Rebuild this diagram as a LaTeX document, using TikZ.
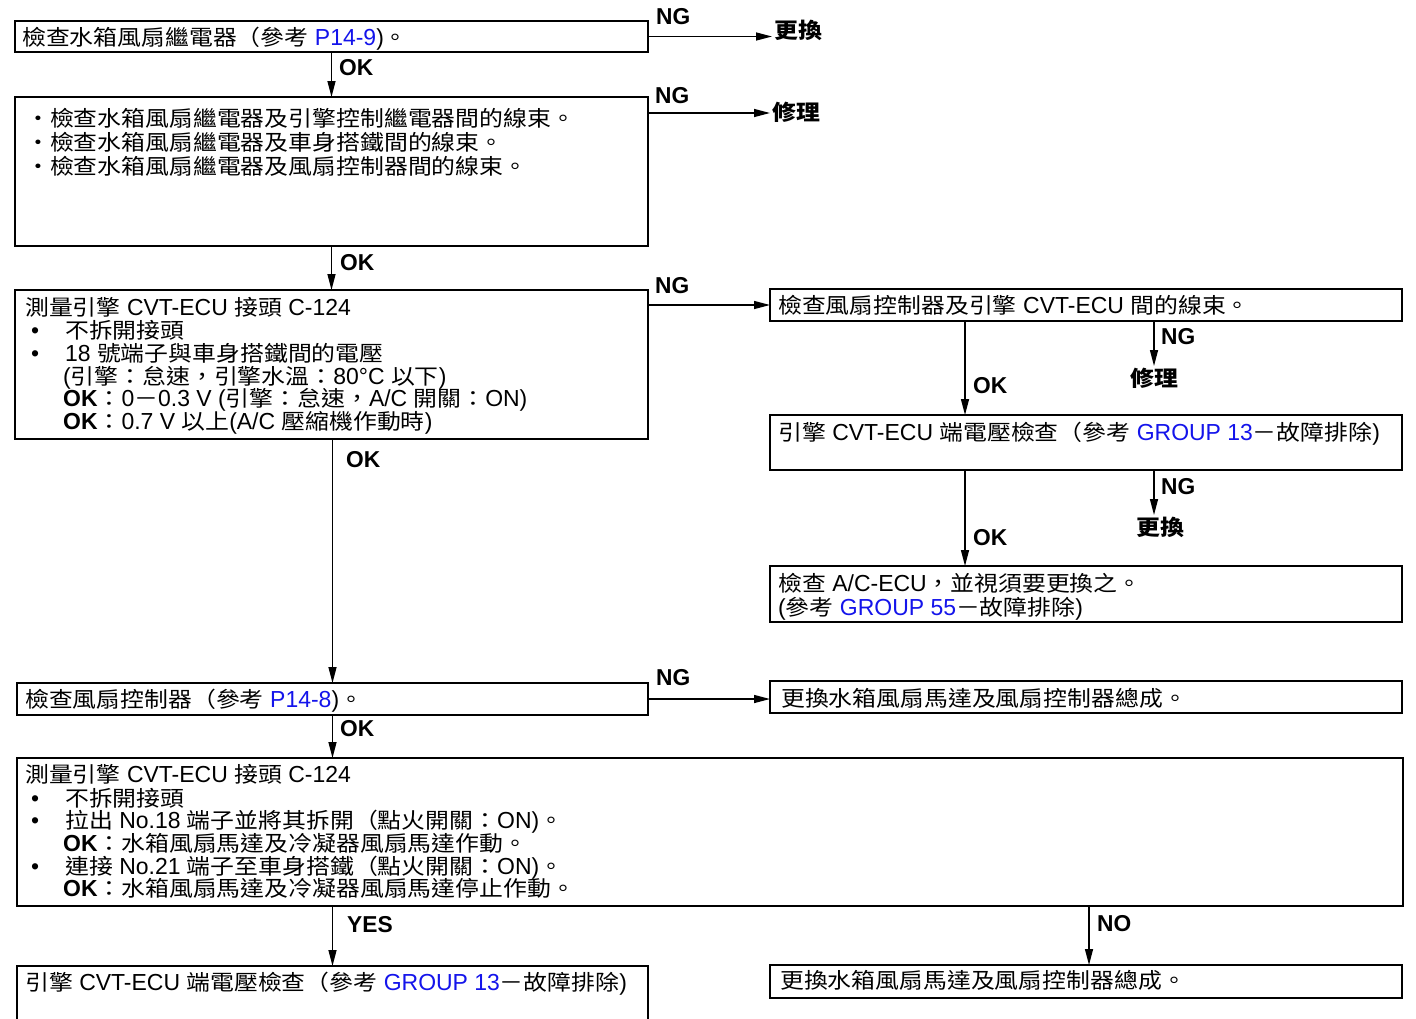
\documentclass[tikz,border=0pt]{standalone}
\usepackage{fontspec}
\usetikzlibrary{arrows.meta,calc}
\setmainfont{Liberation Sans}[FakeStretch=0.99]
\newfontfamily\zhfont{Noto Sans CJK TC}[FakeStretch=1.11]
\newcommand\zh[1]{{\zhfont\fontsize{21.5}{26}\selectfont #1}}
\newcommand\blu[1]{\textcolor{refblue}{#1}}
\newcommand\bul{\makebox[34pt][l]{•}}
\definecolor{refblue}{RGB}{20,20,235}
\begin{document}
\begin{tikzpicture}[x=1pt,y=-1pt,
  box/.style={draw,line width=1.6pt,inner sep=0pt,outer sep=0pt},
  txt/.style={anchor=base west,inner sep=0pt,font=\fontsize{23.2}{28}\selectfont},
  lbl/.style={anchor=west,inner sep=0pt,font=\fontsize{23}{28}\selectfont\bfseries},
  outt/.style={inner sep=2pt,font=\fontsize{23}{28}\selectfont},
  arr/.style={line width=1.4pt,-{Triangle[length=16pt,width=8pt]}}]
\useasboundingbox (0,0) rectangle (1416,1018);
\fill[white] (0,0) rectangle (1416,1018);
% boxes
\node[box,minimum width=633pt,minimum height=31pt] (b1) at (331.5,36.5) {};
\node[box,minimum width=633pt,minimum height=149pt] (b2) at (331.5,171.5) {};
\node[box,minimum width=633pt,minimum height=149pt] (b3) at (331.5,364.5) {};
\node[box,minimum width=632pt,minimum height=32pt] (b4) at (1086,305) {};
\node[box,minimum width=632pt,minimum height=55pt] (b5) at (1086,442.5) {};
\node[box,minimum width=632pt,minimum height=56pt] (b6) at (1086,594) {};
\node[box,minimum width=631pt,minimum height=32pt] (b7) at (332.5,699) {};
\node[box,minimum width=632pt,minimum height=32pt] (b8) at (1086,697) {};
\node[box,minimum width=1386pt,minimum height=148pt] (b9) at (710,832) {};
\node[box,minimum width=631pt,minimum height=70pt] (b10) at (332.5,1001) {};
\node[box,minimum width=632pt,minimum height=33pt] (b11) at (1086,981.5) {};
% texts
\node[txt] (t1) at (22,45) {\zh{檢查水箱風扇繼電器（參考} \blu{P14-9})\zh{。}};
\node[txt] (t2a) at (26,126) {\zh{・檢查水箱風扇繼電器及引擎控制繼電器間的線束。}};
\node[txt] (t2b) at (26,150) {\zh{・檢查水箱風扇繼電器及車身搭鐵間的線束。}};
\node[txt] (t2c) at (26,174) {\zh{・檢查水箱風扇繼電器及風扇控制器間的線束。}};
\node[txt] (t3a) at (25,315) {\zh{測量引擎} CVT-ECU \zh{接頭} C-124};
\node[txt] (t3b) at (31,338) {\bul\zh{不拆開接頭}};
\node[txt] (t3c) at (31,361) {\bul 18 \zh{號端子與車身搭鐵間的電壓}};
\node[txt] (t3d) at (63,384) {(\zh{引擎：怠速，引擎水溫：}80°C \zh{以下})};
\node[txt] (t3e) at (63,406) {\textbf{OK}\zh{：}0\zh{－}0.3 V (\zh{引擎：怠速，}A/C \zh{開關：}ON)};
\node[txt] (t3f) at (63,429) {\textbf{OK}\zh{：}0.7 V \zh{以上}(A/C \zh{壓縮機作動時})};
\node[txt] (t4) at (778,313) {\zh{檢查風扇控制器及引擎} CVT-ECU \zh{間的線束。}};
\node[txt] (t5) at (778,440) {\zh{引擎} CVT-ECU \zh{端電壓檢查（參考} \blu{GROUP 13}\zh{－故障排除})};
\node[txt] (t6a) at (778,591) {\zh{檢查} A/C-ECU\zh{，並視須要更換之。}};
\node[txt] (t6b) at (778,615) {(\zh{參考} \blu{GROUP 55}\zh{－故障排除})};
\node[txt] (t7) at (25,707) {\zh{檢查風扇控制器（參考} \blu{P14-8})\zh{。}};
\node[txt] (t8) at (781,706) {\zh{更換水箱風扇馬達及風扇控制器總成。}};
\node[txt] (t9a) at (25,782) {\zh{測量引擎} CVT-ECU \zh{接頭} C-124};
\node[txt] (t9b) at (31,806) {\bul\zh{不拆開接頭}};
\node[txt] (t9c) at (31,828) {\bul\zh{拉出} No.18 \zh{端子並將其拆開（點火開關：}ON)\zh{。}};
\node[txt] (t9d) at (63,851) {\textbf{OK}\zh{：水箱風扇馬達及冷凝器風扇馬達作動。}};
\node[txt] (t9e) at (31,874) {\bul\zh{連接} No.21 \zh{端子至車身搭鐵（點火開關：}ON)\zh{。}};
\node[txt] (t9f) at (63,896) {\textbf{OK}\zh{：水箱風扇馬達及冷凝器風扇馬達停止作動。}};
\node[txt] (t10) at (25,990) {\zh{引擎} CVT-ECU \zh{端電壓檢查（參考} \blu{GROUP 13}\zh{－故障排除})};
\node[txt] (t11) at (780,988) {\zh{更換水箱風扇馬達及風扇控制器總成。}};
% outcome texts
\node[outt,anchor=west] (r1) at (772,30) {\zh{\bfseries 更換}};
\node[outt,anchor=west] (r2) at (770,112) {\zh{\bfseries 修理}};
\node[outt,anchor=north] (r3) at (1154,366) {\zh{\bfseries 修理}};
\node[outt,anchor=north] (r4) at (1160,515) {\zh{\bfseries 更換}};
\coordinate (c965) at (965,0);
\coordinate (p2) at ($(b2.north east)+(0,16)$);
\coordinate (p11) at ($(b11.north)+(3,0)$);
% connectors
\draw[arr] (b1.east) -- (b1.east -| r1.west);
\draw[arr] (b1.south) -- (b2.north);
\draw[arr] (p2) -- (p2 -| r2.west);
\draw[arr] (b2.south) -- (b3.north);
\draw[arr] (b4.west -| b3.east) -- (b4.west);
\draw[arr] (b4.south -| c965) -- (b5.north -| c965);
\draw[arr] (b4.south -| r3.north) -- (r3.north);
\draw[arr] (b5.south -| c965) -- (b6.north -| c965);
\draw[arr] (b5.south -| r3.north) -- (r4.north -| r3.north);
\draw[arr] (b3.south -| b7.north) -- (b7.north);
\draw[arr] (b7.east) -- (b7.east -| b8.west);
\draw[arr] (b7.south) -- (b7.south |- b9.north);
\draw[arr] (b10.north |- b9.south) -- (b10.north);
\draw[arr] (p11 |- b9.south) -- (p11);
% labels
\node[lbl] (l1) at (656,17) {NG};
\node[lbl] (l2) at (339,68) {OK};
\node[lbl] (l3) at (655,96) {NG};
\node[lbl] (l4) at (340,263) {OK};
\node[lbl] (l5) at (655,286) {NG};
\node[lbl] (l6) at (346,460) {OK};
\node[lbl] (l7) at (1161,337) {NG};
\node[lbl] (l8) at (973,386) {OK};
\node[lbl] (l9) at (1161,487) {NG};
\node[lbl] (l10) at (973,538) {OK};
\node[lbl] (l11) at (656,678) {NG};
\node[lbl] (l12) at (340,729) {OK};
\node[lbl] (l13) at (347,925) {YES};
\node[lbl] (l14) at (1097,924) {NO};
\end{tikzpicture}
\end{document}
